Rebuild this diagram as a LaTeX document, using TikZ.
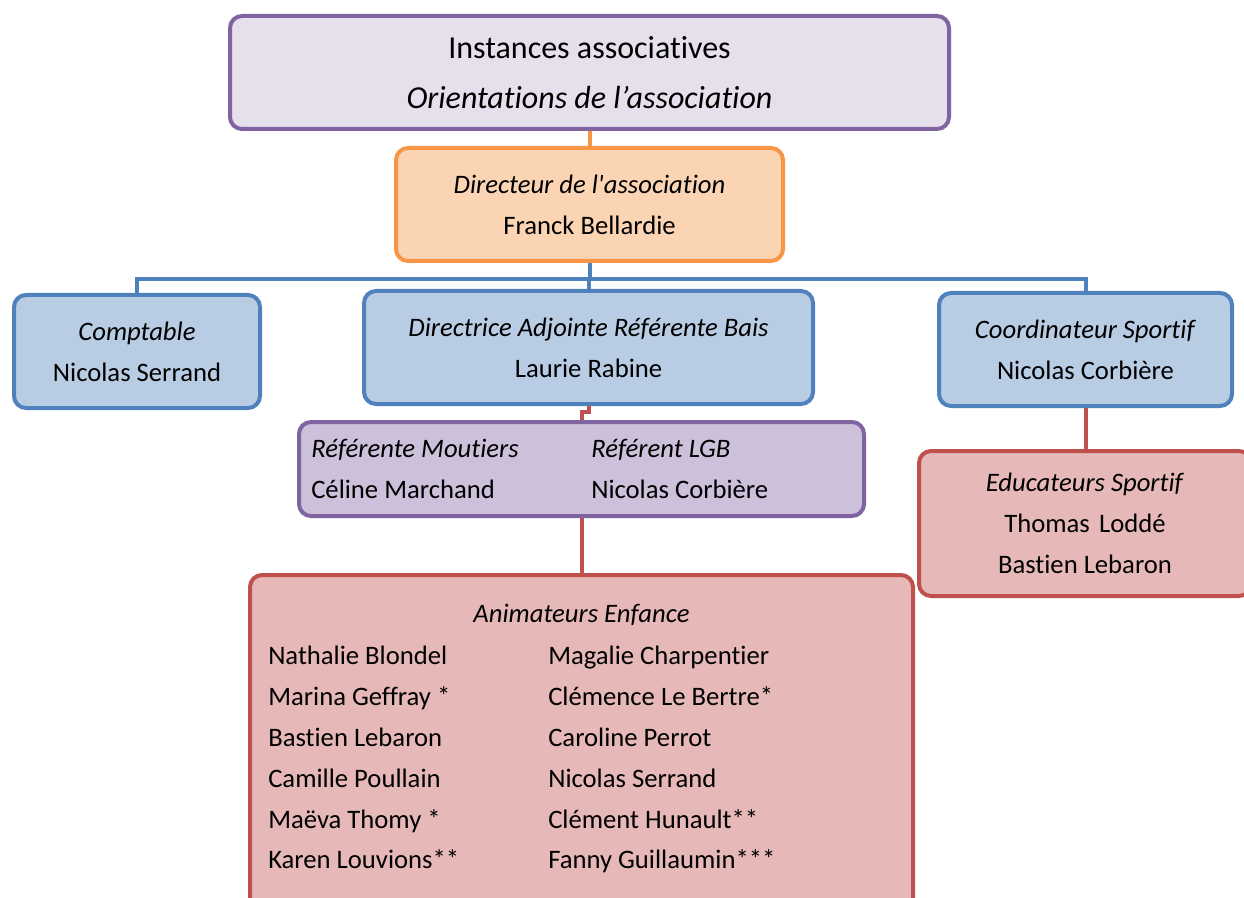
\documentclass[tikz,border=0pt]{standalone}
\usepackage{fontspec}
\setmainfont{Carlito}[Ligatures={NoCommon}]
\usetikzlibrary{fit}
\definecolor{purpB}{HTML}{8064A2}
\definecolor{purpF}{HTML}{E5E0EC}
\definecolor{purpF2}{HTML}{CCC0DA}
\definecolor{orB}{HTML}{F79646}
\definecolor{orF}{HTML}{FBD4B4}
\definecolor{blB}{HTML}{4F81BD}
\definecolor{blF}{HTML}{B8CCE4}
\definecolor{rdB}{HTML}{C0504D}
\definecolor{rdF}{HTML}{E6B9B8}
\newcommand{\ph}{\vphantom{Éy}}
\tikzset{
  box/.style={rectangle, rounded corners=9pt, line width=3pt, inner sep=0pt},
  purplebox/.style={box, draw=purpB, fill=purpF},
  purplebox2/.style={box, draw=purpB, fill=purpF2},
  orangebox/.style={box, draw=orB, fill=orF},
  bluebox/.style={box, draw=blB, fill=blF},
  redbox/.style={box, draw=rdB, fill=rdF},
  txtc/.style={inner sep=0pt, align=center, font=\fontsize{20}{30.75}\selectfont},
  txt/.style={inner sep=0pt, anchor=west, font=\fontsize{20}{30.6}\selectfont, align=left},
  conn/.style={line width=3pt},
}
\begin{document}
\begin{tikzpicture}[x=0.75pt, y=-0.75pt]
\useasboundingbox (0,0) rectangle (1244,898);
\clip (0,0) rectangle (1244,898);
% boxes
\node[purplebox, fit={(230,16) (949,129)}] (top) {};
\node[txtc, font=\fontsize{24}{37.5}\selectfont] (topT) at (top.center)
  {Instances associatives\\ \textit{Orientations de l’association}};
\node[orangebox, fit={(396,148) (783,261)}] (dir) {};
\node[txtc] (dirT) at (dir.center)
  {\textit{Directeur de l\textquotesingle association}\\ Franck Bellardie};
\node[bluebox, fit={(14,295) (260,408)}] (comp) {};
\node[txtc] (compT) at (comp.center)
  {\textit{Comptable}\\ Nicolas Serrand};
\node[bluebox, fit={(364,291) (813,404)}] (adj) {};
\node[txtc] (adjT) at (adj.center)
  {\textit{Directrice Adjointe Référente Bais}\\ Laurie Rabine};
\node[bluebox, fit={(939,293) (1232,406)}] (coord) {};
\node[txtc] (coordT) at (coord.center)
  {\textit{Coordinateur Sportif}\\ Nicolas Corbière};
\node[purplebox2, fit={(299,422) (864,516)}] (ref) {};
\node[txt] (refL) at (311,469) {\ph\textit{Référente Moutiers}\\ Céline Marchand\ph};
\node[txt] (refR) at (591,469) {\ph\textit{Référent LGB}\\ Nicolas Corbière\ph};
\node[redbox, fit={(919,451) (1251,596)}] (edu) {};
\node[txtc] (eduT) at (1085,523.5)
  {\textit{Educateurs Sportif}\\ Thomas\hspace{0.35em}Loddé\\ Bastien Lebaron};
\node[redbox, fit={(250,575) (913,940)}] (anim) {};
\node[txtc] (animT) at (581.5,615) {\textit{Animateurs Enfance}};
\node[txt] (animL) at (268,758)
  {\ph Nathalie Blondel\\ Marina Geffray *\\ Bastien Lebaron\\ Camille Poullain\\ Maëva Thomy *\\ Karen Louvions**\ph};
\node[txt] (animR) at (548,758)
  {\ph Magalie Charpentier\\ Clémence Le Bertre*\\ Caroline Perrot\\ Nicolas Serrand\\ Clément Hunault**\\ Fanny Guillaumin***\ph};
% connectors
\draw[conn, orB] (top.south) -- (dir.north);
\coordinate (busL) at (137,279);
\coordinate (busR) at (1085.5,279);
\draw[conn, blB] (comp.north) -- (busL) -- (busR) -- (coord.north);
\draw[conn, blB] (dir.south) -- (dir.south |- busL);
\draw[conn, blB] (adj.north) -- (adj.north |- busL);
\coordinate (jog) at (588.5,412);
\draw[conn, rdB] (adj.south) -- (jog) -| (ref.north);
\draw[conn, rdB] (ref.south) -- (ref.south |- anim.north);
\draw[conn, rdB] (coord.south) -- (coord.south |- edu.north);
\end{tikzpicture}
\end{document}
